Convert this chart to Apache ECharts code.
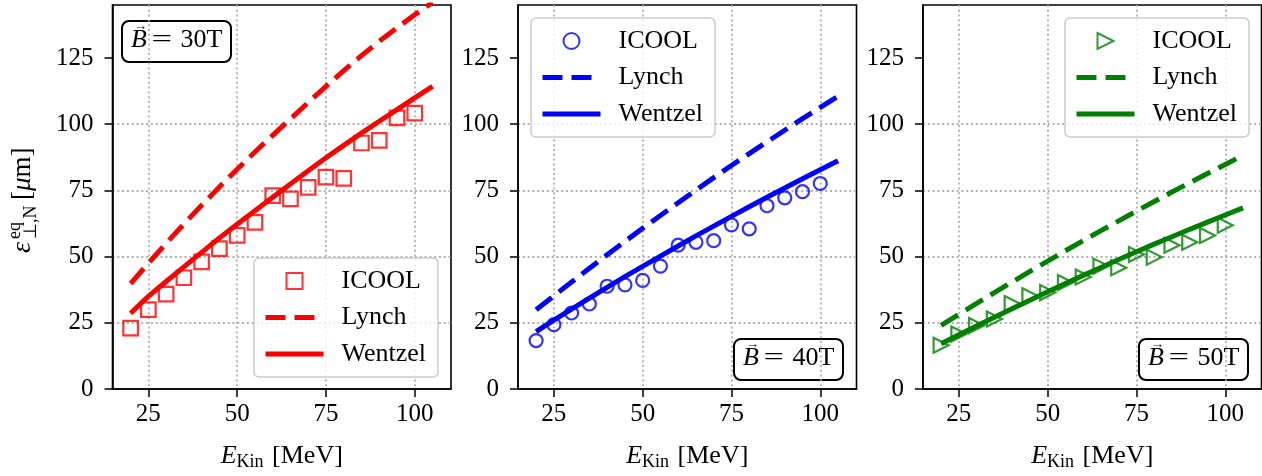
<!DOCTYPE html>
<html>
<head>
<meta charset="utf-8">
<script src="https://cdn.jsdelivr.net/npm/echarts@6/dist/echarts.min.js"></script>
<style>
  html, body { margin: 0; padding: 0; background: #fff; }
  #chart { width: 1262px; height: 476px; }
</style>
</head>
<body>
<div id="chart"></div>
<script>
// ICOOL points (MeV) and model curves
var energy = [20, 25, 30, 35, 40, 45, 50, 55, 60, 65, 70, 75, 80, 85, 90, 95, 100];
var curveEnergy = [20, 25, 30, 35, 40, 45, 50, 55, 60, 65, 70, 75, 80, 85, 90, 95, 100, 105];

var icool30 = [23.0, 30.0, 35.8, 42.0, 48.0, 53.0, 58.0, 62.9, 73.0, 71.8, 76.1, 80.0, 79.5, 92.9, 93.9, 102.4, 104.2];
var icool40 = [18.3, 24.3, 28.7, 32.1, 38.8, 39.3, 41.0, 46.4, 54.3, 55.4, 56.0, 62.0, 60.5, 69.2, 72.2, 74.5, 77.6];
var icool50 = [16.5, 20.8, 24.0, 26.4, 32.3, 35.2, 36.4, 40.2, 42.3, 46.4, 45.8, 50.8, 49.8, 54.3, 55.4, 58.0, 61.8];

var lynch30 = [39.8, 47.5, 55.0, 62.3, 69.4, 76.3, 83.0, 89.5, 95.8, 102.0, 108.2, 114.3, 120.2, 125.9, 131.3, 136.4, 141.3, 146.0];
var lynch40 = [29.9, 35.2, 40.4, 45.6, 50.7, 55.7, 60.7, 65.5, 70.3, 75.1, 79.8, 84.4, 88.9, 93.3, 97.7, 102.1, 106.3, 110.5];
var lynch50 = [24.0, 28.2, 32.3, 36.4, 40.4, 44.4, 48.3, 52.2, 56.0, 59.8, 63.5, 67.2, 70.8, 74.4, 77.9, 81.4, 84.8, 88.2];

var wentzel30 = [28.6, 35.0, 40.6, 46.1, 51.6, 57.0, 62.2, 67.3, 72.4, 77.4, 82.4, 87.3, 92.0, 96.6, 101.1, 105.5, 109.9, 114.3];
var wentzel40 = [21.7, 26.0, 30.2, 34.3, 38.4, 42.4, 46.3, 50.2, 54.0, 57.8, 61.5, 65.2, 68.8, 72.4, 75.9, 79.4, 82.8, 86.2];
var wentzel50 = [17.1, 20.5, 23.8, 27.1, 30.3, 33.5, 36.7, 39.8, 42.9, 45.9, 48.9, 51.8, 54.7, 57.5, 60.3, 63.0, 65.7, 68.4];

var xTicks = [25, 50, 75, 100];
var yTicks = [0, 25, 50, 75, 100, 125];
var fields = ['30T', '40T', '50T'];

var FONT = 'Liberation Serif';
var colors = ['#ff0000', '#0000ff', '#008000'];
var symbols = ['path://M0,0H10V10H0Z', 'circle', 'path://M0,0L10,5L0,10Z'];
var symbolSizes = [14.5, 13, 15];
var icool = [icool30, icool40, icool50];
var lynch = [lynch30, lynch40, lynch50];
var wentzel = [wentzel30, wentzel40, wentzel50];

function pairs(xs, ys) {
    var out = [];
    for (var i = 0; i < ys.length; i++) out.push([xs[i], ys[i]]);
    return out;
}

var gridLefts = [112.5, 518, 923];
var grids = [], xAxes = [], yAxes = [], series = [], legends = [], graphics = [];

for (var p = 0; p < 3; p++) {
    grids.push({
        left: gridLefts[p], top: 5, width: 338.5, height: 387,
        show: true, borderColor: '#000', borderWidth: 1.6, backgroundColor: 'transparent'
    });
    xAxes.push({
        gridIndex: p, type: 'value', min: 14.9, max: 110.2,
        name: '{i|E}{s|Kin} [MeV]', nameLocation: 'middle', nameGap: 52,
        nameTextStyle: {
            fontFamily: FONT, fontSize: 26, color: '#000',
            rich: {
                i: { fontFamily: FONT, fontSize: 26, fontStyle: 'italic', color: '#000' },
                s: { fontFamily: FONT, fontSize: 18, color: '#000', padding: [12, 2, 0, 0] }
            }
        },
        axisLine: { show: true, lineStyle: { color: '#000', width: 1.6 } },
        axisTick: { show: true, length: 8, lineStyle: { color: '#000', width: 1.5 }, customValues: xTicks },
        axisLabel: { fontFamily: FONT, fontSize: 25, color: '#000', margin: 13, customValues: xTicks },
        splitLine: { show: true, lineStyle: { color: '#b0b0b0', width: 1.8, type: [2, 2.8] } }
    });
    yAxes.push({
        gridIndex: p, type: 'value', min: 0, max: 145, interval: 25,
        axisLine: { show: true, lineStyle: { color: '#000', width: 1.6 } },
        axisTick: { show: true, length: 8, lineStyle: { color: '#000', width: 1.5 }, customValues: yTicks },
        axisLabel: { fontFamily: FONT, fontSize: 25, color: '#000', margin: 19, customValues: yTicks },
        splitLine: { show: true, showMinLine: false, showMaxLine: false,
            lineStyle: { color: '#b0b0b0', width: 1.8, type: [2, 2.8] } }
    });

    series.push({
        name: 'ICOOL-' + p, type: 'scatter', xAxisIndex: p, yAxisIndex: p,
        data: pairs(energy, icool[p]),
        symbol: symbols[p], symbolSize: symbolSizes[p],
        itemStyle: { color: 'transparent', borderColor: colors[p], borderWidth: 2.2 },
        z: 2
    });
    series.push({
        name: 'Lynch-' + p, type: 'line', xAxisIndex: p, yAxisIndex: p,
        data: pairs(curveEnergy, lynch[p]),
        symbol: 'none', clip: true,
        itemStyle: { color: colors[p] },
        lineStyle: { color: colors[p], width: 5, type: [20, 9], cap: 'butt' },
        z: 3
    });
    series.push({
        name: 'Wentzel-' + p, type: 'line', xAxisIndex: p, yAxisIndex: p,
        data: pairs(curveEnergy, wentzel[p]),
        symbol: 'none', clip: true,
        itemStyle: { color: colors[p] },
        lineStyle: { color: colors[p], width: 5, type: 'solid', cap: 'butt' },
        z: 4
    });
}

var legendPos = [[254, 258], [531, 18], [1065, 18]];
var noDot = { color: 'rgba(0,0,0,0)', borderWidth: 0, opacity: 0 };
for (var p = 0; p < 3; p++) {
    legends.push({
        left: legendPos[p][0], top: legendPos[p][1],
        orient: 'vertical', selectedMode: false,
        data: [
            { name: 'ICOOL-' + p },
            { name: 'Lynch-' + p, itemStyle: noDot },
            { name: 'Wentzel-' + p, itemStyle: noDot }
        ],
        formatter: function (n) { return n.split('-')[0]; },
        itemWidth: 58, itemHeight: 16, itemGap: 10.5,
        padding: [10, 12, 10, 9],
        backgroundColor: 'rgba(255,255,255,0.8)',
        borderColor: '#cccccc', borderWidth: 1.5, borderRadius: 5,
        lineStyle: { width: 5 },
        textStyle: { fontFamily: FONT, fontSize: 26, lineHeight: 26, color: '#000', padding: [0, 0, 0, 13] }
    });
}

// B-field boxes
var boxPos = [[122, 21], [734, 339], [1139, 339]];
for (var p = 0; p < 3; p++) {
    var bx = boxPos[p][0], by = boxPos[p][1];
    graphics.push({
        type: 'group', x: bx, y: by, z: 100,
        children: [
            { type: 'rect', shape: { x: 0, y: 0, width: 109, height: 41, r: 7 },
              style: { fill: '#fff', stroke: '#000', lineWidth: 2 } },
            { type: 'text', x: 9, y: 19,
              style: { text: 'B', fontFamily: FONT, fontSize: 26, fontStyle: 'italic', fill: '#000', verticalAlign: 'middle' } },
            { type: 'text', x: 12, y: 6,
              style: { text: '\u2192', fontFamily: FONT, fontSize: 13, fill: '#000', verticalAlign: 'middle' } },
            { type: 'text', x: 29.5, y: 19, scaleX: 1.4,
              style: { text: '=', fontFamily: FONT, fontSize: 26, fill: '#000', verticalAlign: 'middle' } },
            { type: 'text', x: 58.5, y: 19,
              style: { text: fields[p], fontFamily: FONT, fontSize: 26, fill: '#000', verticalAlign: 'middle' } }
        ]
    });
}

// y axis label (rotated)
graphics.push({
    type: 'group', x: 23, y: 253, rotation: Math.PI / 2,
    children: [
        { type: 'text', x: 0, y: 0,
          style: { text: '\u03b5', fontFamily: FONT, fontSize: 28, fontStyle: 'italic', fill: '#000', verticalAlign: 'middle' } },
        { type: 'text', x: 14, y: -8,
          style: { text: 'eq', fontFamily: FONT, fontSize: 18, fill: '#000', verticalAlign: 'middle' } },
        { type: 'text', x: 14, y: 8,
          style: { text: '\u22a5,N', fontFamily: FONT, fontSize: 18, fill: '#000', verticalAlign: 'middle' } },
        { type: 'text', x: 53, y: 0,
          style: { text: '[{m|\u03bc}m]', fontFamily: FONT, fontSize: 27, fill: '#000', verticalAlign: 'middle',
                   rich: { m: { fontFamily: FONT, fontSize: 27, fontStyle: 'italic', fill: '#000' } } } }
    ]
});

var chart = echarts.init(document.getElementById('chart'), null, { renderer: 'canvas' });
chart.setOption({
    backgroundColor: '#fff',
    animation: false,
    grid: grids,
    xAxis: xAxes,
    yAxis: yAxes,
    legend: legends,
    series: series,
    graphic: graphics
});
</script>
</body>
</html>
